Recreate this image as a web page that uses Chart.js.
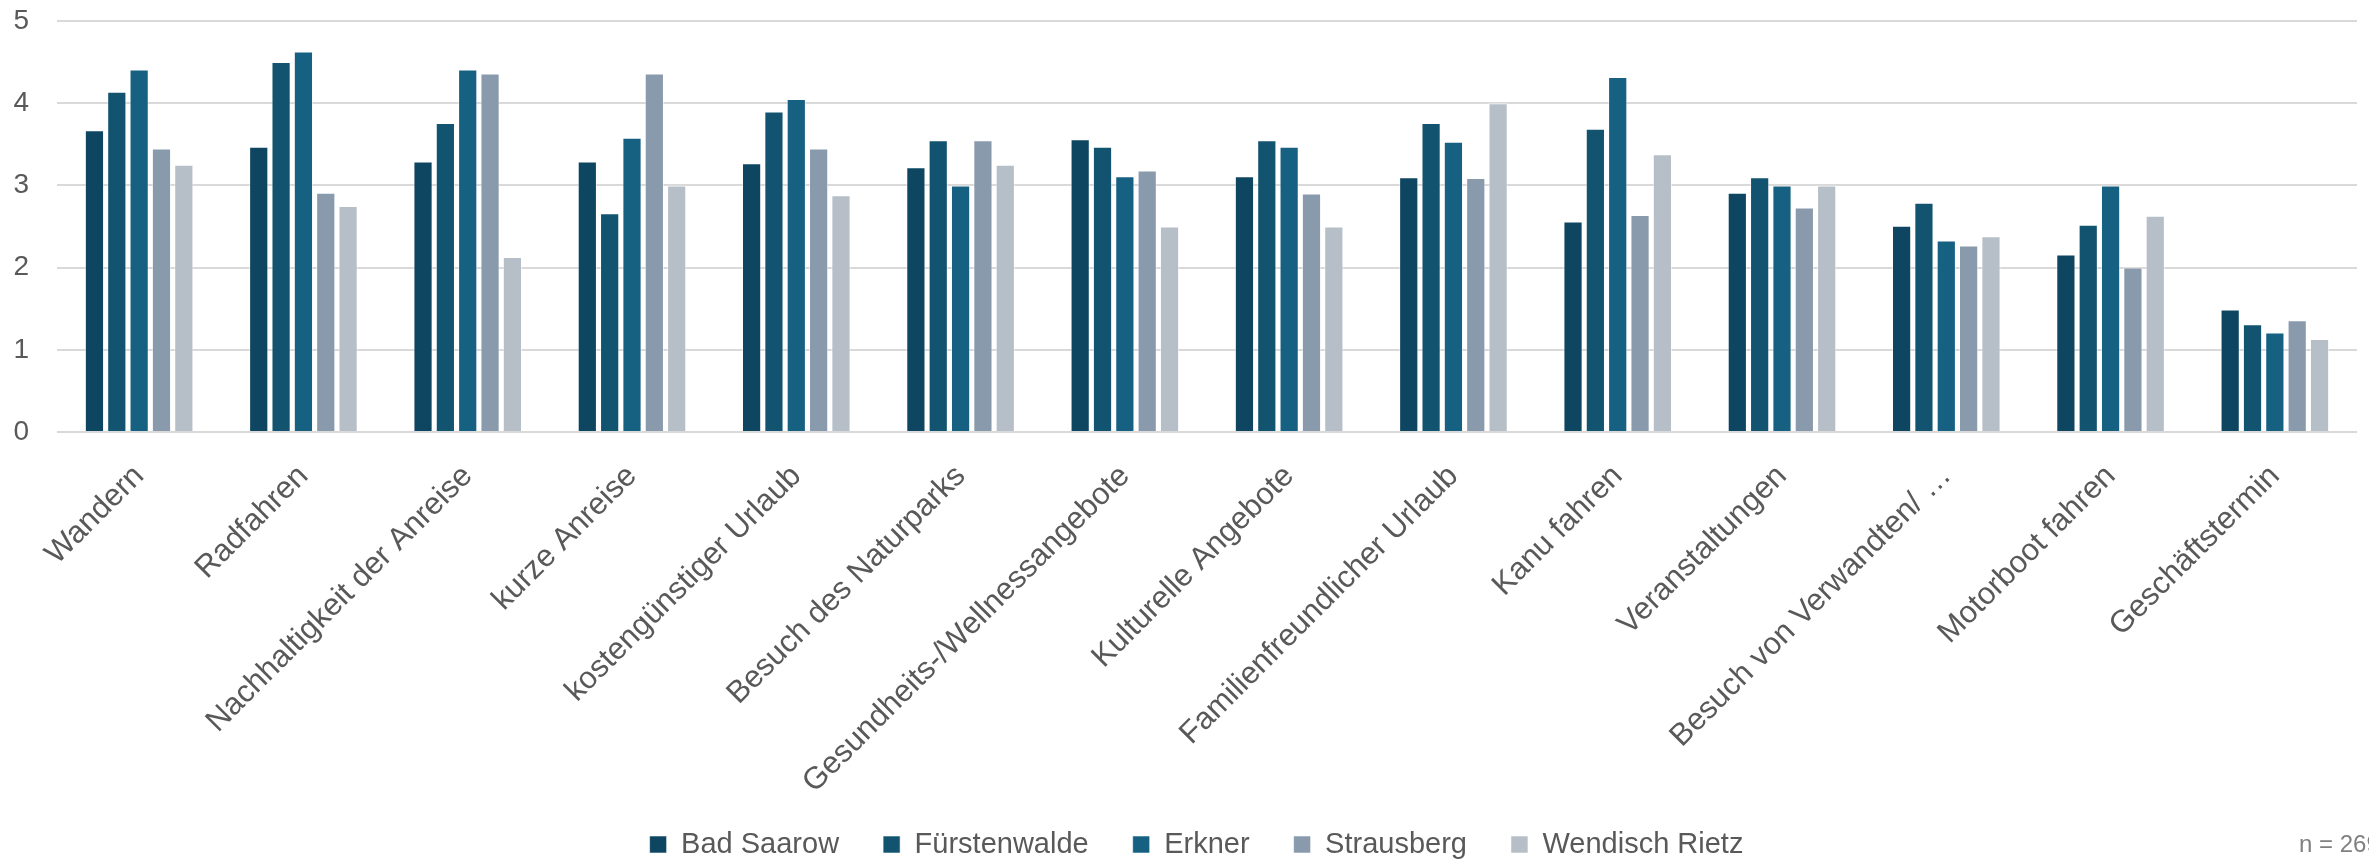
<!DOCTYPE html>
<html lang="de">
<head>
<meta charset="utf-8">
<title>Reisemotive</title>
<script src="https://cdn.jsdelivr.net/npm/chart.js@4"></script>
<style>
    html, body { margin: 0; padding: 0; background: #ffffff; }
    #wrap { width: 2369px; height: 859px; position: relative; overflow: hidden; }
</style>
</head>
<body>
<div id="wrap"><canvas id="motiveChart"></canvas></div>
<script>
const categories = [
    'Wandern', 'Radfahren', 'Nachhaltigkeit der Anreise', 'kurze Anreise',
    'kostengünstiger Urlaub', 'Besuch des Naturparks', 'Gesundheits-/Wellnessangebote',
    'Kulturelle Angebote', 'Familienfreundlicher Urlaub', 'Kanu fahren',
    'Veranstaltungen', 'Besuch von Verwandten/ …', 'Motorboot fahren', 'Geschäftstermin'
];
const badSaarow     = [3.67, 3.47, 3.29, 3.29, 3.27, 3.22, 3.56, 3.11, 3.10, 2.56, 2.91, 2.51, 2.16, 1.49];
const fuerstenwalde = [4.14, 4.50, 3.76, 2.66, 3.90, 3.55, 3.47, 3.55, 3.76, 3.69, 3.10, 2.79, 2.52, 1.31];
const erkner        = [4.41, 4.63, 4.41, 3.58, 4.05, 3.00, 3.11, 3.47, 3.53, 4.32, 3.00, 2.33, 3.00, 1.21];
const strausberg    = [3.45, 2.91, 4.36, 4.36, 3.45, 3.55, 3.18, 2.90, 3.09, 2.64, 2.73, 2.27, 2.00, 1.36];
const wendischRietz = [3.25, 2.75, 2.13, 3.00, 2.88, 3.25, 2.50, 2.50, 4.00, 3.38, 3.00, 2.38, 2.63, 1.13];
const yTicks = [0, 1, 2, 3, 4, 5];
const sampleNote = 'n = 269';

const textColor = '#595959';
const fontFamily = '"Liberation Sans", Arial, sans-serif';

// footnote in the lower right corner (runs past the edge on purpose)
const notePlugin = {
    id: 'sampleNote',
    afterDraw(chart) {
        const c = chart.ctx;
        c.save();
        c.font = '24px ' + fontFamily;
        c.fillStyle = '#808080';
        c.textAlign = 'left';
        c.textBaseline = 'middle';
        c.fillText(sampleNote, 2299, 845);
        c.restore();
    }
};

// long rotated category names need room below the x box, and the legend
// keeps its wide item spacing, so nudge both after the layout pass
const layoutTweaks = {
    id: 'layoutTweaks',
    afterLayout(chart) {
        chart.scales.x.bottom = chart.height;
        const lg = chart.legend;
        if (lg) {
            lg.top += 10;
            lg.bottom += 10;
            lg.left += 18;
            lg.right += 18;
        }
    }
};

document.addEventListener('DOMContentLoaded', function() {
    const ctx = document.getElementById('motiveChart').getContext('2d');

    function series(label, data, color) {
        return {
            label: label,
            data: data,
            backgroundColor: color,
            borderColor: 'rgba(255, 255, 255, 0.55)',
            borderWidth: 1,
            categoryPercentage: 0.68,
            barPercentage: 0.86
        };
    }

    new Chart(ctx, {
        type: 'bar',
        data: {
            labels: categories,
            datasets: [
                series('Bad Saarow', badSaarow, '#0e4661'),
                series('Fürstenwalde', fuerstenwalde, '#12546f'),
                series('Erkner', erkner, '#166082'),
                series('Strausberg', strausberg, '#899aac'),
                series('Wendisch Rietz', wendischRietz, '#b6bfc8')
            ]
        },
        options: {
            responsive: true,
            maintainAspectRatio: false,
            animation: false,
            layout: {
                padding: { top: 21, right: 12, left: 0, bottom: 0 }
            },
            scales: {
                x: {
                    grid: { display: false, drawTicks: false },
                    border: { display: false },
                    ticks: {
                        color: textColor,
                        font: { family: fontFamily, size: 31 },
                        minRotation: 45,
                        maxRotation: 45,
                        autoSkip: false,
                        padding: 26,
                        labelOffset: 0
                    },
                    afterFit: function(scale) {
                        scale.height = 344;
                    }
                },
                y: {
                    min: 0,
                    max: 5,
                    afterBuildTicks: function(scale) {
                        scale.ticks = yTicks.map(v => ({ value: v }));
                    },
                    grid: { color: '#d9d9d9', lineWidth: 2, drawTicks: false },
                    border: { display: false },
                    ticks: {
                        color: textColor,
                        font: { family: fontFamily, size: 28 },
                        padding: 28
                    },
                    afterFit: function(scale) {
                        scale.width = 57;
                        scale.paddingTop = 0;
                        scale.paddingBottom = 0;
                    }
                }
            },
            plugins: {
                legend: {
                    position: 'bottom',
                    labels: {
                        color: textColor,
                        font: { family: fontFamily, size: 29 },
                        boxWidth: 17,
                        boxHeight: 17,
                        padding: 44
                    }
                },
                tooltip: { enabled: false }
            }
        },
        plugins: [notePlugin, layoutTweaks]
    });
});
</script>
</body>
</html>
